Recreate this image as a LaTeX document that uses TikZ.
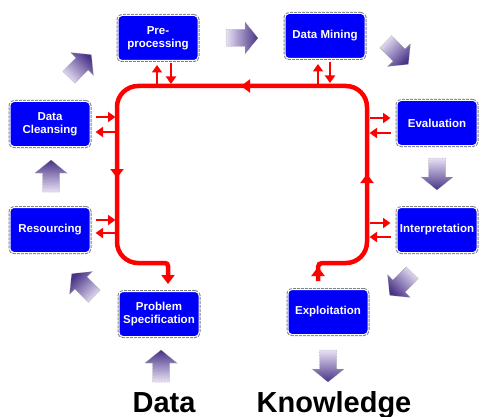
\documentclass[tikz,border=0pt]{standalone}
\usepackage{fontspec}
\setsansfont{Liberation Sans}
\usetikzlibrary{arrows.meta}
\definecolor{boxblue}{RGB}{0,0,250}
\definecolor{arrdark}{RGB}{72,50,135}
\definecolor{arrlight}{RGB}{232,225,245}
\tikzset{
  stage/.style={rectangle, rounded corners=4pt, fill=boxblue, draw=white, line width=1pt,
    preaction={draw=gray, line width=3pt, densely dotted},
    minimum width=80pt, minimum height=45pt, align=center, inner sep=1pt,
    text=white, font=\sffamily\bfseries\fontsize{11.5}{13}\selectfont},
  flow/.style={draw=red, line width=4.5pt},
  flowtip/.style={draw=red, line width=4.5pt, -{Triangle[width=13pt,length=9pt]}},
  link/.style={draw=red, line width=2.5pt, -{Triangle[width=10pt,length=7.5pt]}},
  bigword/.style={font=\sffamily\bfseries\fontsize{29}{30}\selectfont, anchor=base}
}
\newcommand{\fatarrow}[3]{%
  \pgfmathsetmacro\shadeang{#3-90}
  \begin{scope}[shift={(#1,#2)}, rotate=#3]
  \shade[top color=arrdark, bottom color=arrlight, shading angle=\shadeang,
    draw=gray!80, densely dotted, line width=0.5pt]
    (-16,-8.5) -- (3,-8.5) -- (3,-16) -- (16,0) -- (3,16) -- (3,8.5) -- (-16,8.5) -- cycle;
  \end{scope}}
\begin{document}
\begin{tikzpicture}[x=1pt,y=-1pt]
\useasboundingbox (0,0) rectangle (500,417);
\node[stage] (pre) at (158,38) {Pre-\\processing};
\node[stage] (dm) at (325,36) {Data Mining};
\node[stage] (dc) at (50,124) {Data\\Cleansing};
\node[stage] (eval) at (437,123) {Evaluation};
\node[stage] (res) at (50,230) {Resourcing};
\node[stage] (interp) at (437,230) {Interpretation};
\node[stage] (ps) at (159,314) {Problem\\Specification};
\node[stage] (expl) at (328,312) {Exploitation};
\node[bigword] (data) at (164,412) {Data};
\node[bigword] (know) at (334,412) {Knowledge};
\draw[flow] (318,281) [rounded corners=4pt] -- (318,263) [rounded corners=21pt] -- (367,263) -- (367,86)
  -- (117,86) -- (117,263) [rounded corners=3pt] -- (168,263) -- (168,275);
\draw[flowtip] (168,270) -- (168,284);
\draw[flowtip] (318,281) -- (318,267);
\draw[flowtip] (367,190) -- (367,174);
\draw[flowtip] (256,86) -- (241,86);
\draw[flowtip] (117,162) -- (117,178);
\draw[link] ([xshift=-1pt]pre.south) ++(0,24) -- ++(0,-20);
\draw[link] ([xshift=13pt]pre.south) ++(0,2) -- ++(0,21);
\draw[link] ([xshift=-7pt]dm.south) ++(0,25) -- ++(0,-20);
\draw[link] ([xshift=5pt]dm.south) ++(0,3) -- ++(0,21);
\draw[link] ([yshift=7pt]dc.east) ++(5,0) -- ++(20,0);
\draw[link] ([yshift=-8pt]dc.east) ++(25,0) -- ++(-20,0);
\draw[link] ([yshift=10pt]res.east) ++(5,0) -- ++(20,0);
\draw[link] ([yshift=-3pt]res.east) ++(25,0) -- ++(-20,0);
\draw[link] ([yshift=5pt]eval.west) ++(-27,0) -- ++(21,0);
\draw[link] ([yshift=-10pt]eval.west) ++(-6,0) -- ++(-21,0);
\draw[link] ([yshift=7pt]interp.west) ++(-27,0) -- ++(21,0);
\draw[link] ([yshift=-7pt]interp.west) ++(-6,0) -- ++(-21,0);
\fatarrow{242}{38}{0}
\fatarrow{397}{53}{-45}
\fatarrow{437}{174}{-90}
\fatarrow{401}{284}{-135}
\fatarrow{328}{366}{-90}
\fatarrow{161}{366}{90}
\fatarrow{83}{285}{135}
\fatarrow{51}{176}{90}
\fatarrow{80}{66}{45}
\end{tikzpicture}
\end{document}
